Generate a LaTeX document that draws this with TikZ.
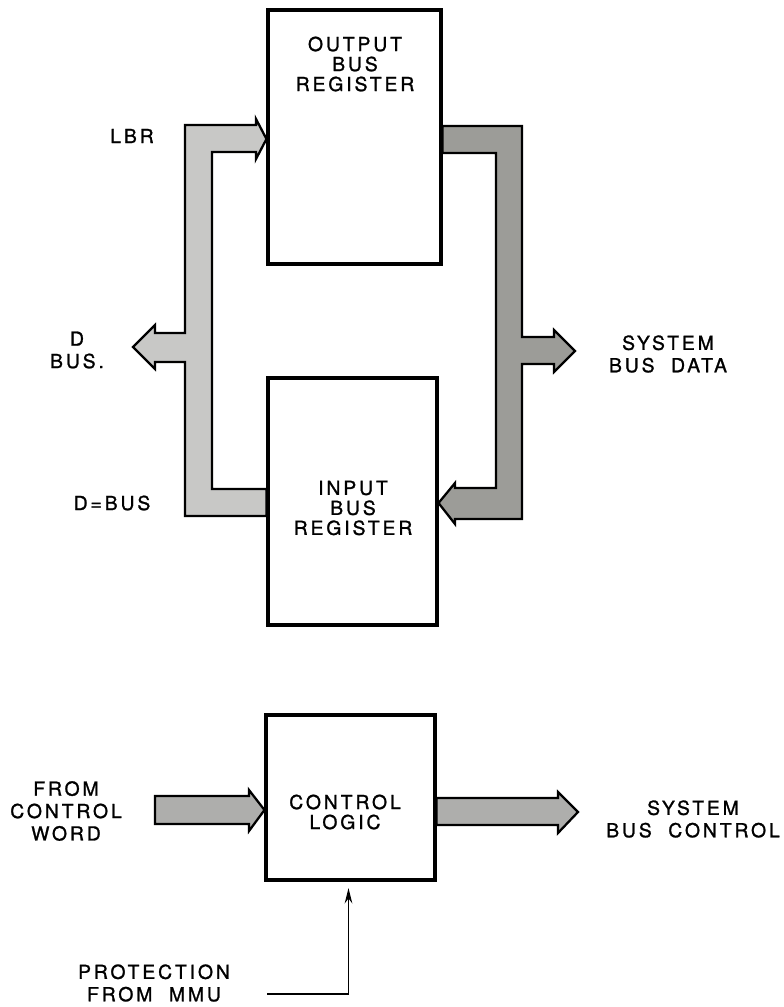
\documentclass[tikz,border=0pt]{standalone}
\usepackage{fontspec}
\setmainfont{TeX Gyre Heros}[LetterSpace=15,FakeBold=1.2]
\usetikzlibrary{arrows.meta,calc}
\definecolor{BusLight}{HTML}{C8C8C6}
\definecolor{BusDark}{HTML}{9C9C98}
\definecolor{BusMid}{HTML}{AEAEAC}
\tikzset{
  regbox/.style={draw,line width=2.3pt,fill=white,inner sep=0pt},
  boxtext/.style={align=center,inner sep=0pt,font=\fontsize{14.5}{15}\selectfont},
  lbl/.style={align=center,inner sep=0pt,font=\fontsize{14.5}{16.8}\selectfont},
  busline/.style={draw,line width=1.7pt,line join=miter},
  ctrlline/.style={-{Stealth[length=4mm,width=2mm]},line width=1.1pt}
}
\begin{document}
\begin{tikzpicture}[x=0.75pt,y=-0.75pt]
\useasboundingbox (0,0) rectangle (783,1007);
% register boxes
\node[regbox,minimum width=129.75pt,minimum height=190.5pt] (obr) at (354.5,137) {};
\node[regbox,minimum width=126.75pt,minimum height=185.25pt] (ibr) at (352.5,501.5) {};
\node[regbox,minimum width=126.75pt,minimum height=123.75pt] (cl) at (350.5,797.5) {};
\node[boxtext] (obrtext) at (355,64) {OUTPUT\\BUS\\REGISTER};
\node[boxtext] (ibrtext) at (353,508) {INPUT\\BUS\\REGISTER};
\node[boxtext] (cltext) at (345,812) {CONTROL\\LOGIC};
% left bus: D bus
\draw[busline,fill=BusLight]
  (185,125) -- (256,125) -- (256,119) -- (obr.west |- 0,139) -- (256,159) -- (256,152)
  -- (212,152) -- (212,489) -- (ibr.west |- 0,489) -- (ibr.west |- 0,516) -- (185,516)
  -- (185,362) -- (155,362) -- (155,369) -- (133,347) -- (155,325) -- (155,333)
  -- (185,333) -- cycle;
% right bus: system bus data
\draw[busline,fill=BusDark]
  (obr.east |- 0,126) -- (522,126) -- (522,337) -- (554,337) -- (554,330) -- (575,351)
  -- (554,372) -- (554,364) -- (522,364) -- (522,519) -- (455,519) -- (455,524)
  -- (ibr.east |- 0,503) -- (455,483) -- (455,488) -- (496,488) -- (496,153)
  -- (obr.east |- 0,153) -- cycle;
% control arrows
\draw[busline,fill=BusMid]
  (155,796) -- (249,796) -- (249,790) -- (cl.west |- 0,810) -- (249,831) -- (249,824)
  -- (155,824) -- cycle;
\draw[busline,fill=BusMid]
  (cl.east |- 0,798) -- (558,798) -- (558,792) -- (578,812) -- (558,833) -- (558,825)
  -- (cl.east |- 0,825) -- cycle;
\coordinate (protin) at (267,994);
\draw[ctrlline,shorten >=5pt] (protin) -| ($(cl.south)+(-2,0)$);
% labels
\node[lbl] (lbr) at (132,136) {LBR};
\node[lbl] (dbus) at (77,350) {D\\BUS.};
\node[lbl] (deqbus) at (112,503) {D=BUS};
\node[lbl] (sbd) at (668,354) {SYSTEM\\BUS\ \ DATA};
\node[lbl] (fcw) at (66,811) {FROM\\CONTROL\\WORD};
\node[lbl] (sbc) at (693,819) {SYSTEM\\BUS\ \ CONTROL};
\node[lbl] (prot) at (154,983) {PROTECTION\\FROM\ \ MMU};
\end{tikzpicture}
\end{document}
